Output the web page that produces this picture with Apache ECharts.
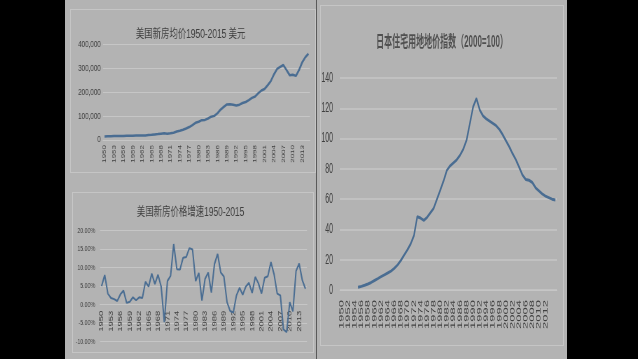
<!DOCTYPE html>
<html><head><meta charset="utf-8">
<script src="https://cdn.jsdelivr.net/npm/echarts/dist/echarts.min.js"></script>
<style>
html,body{margin:0;padding:0;background:#000;width:638px;height:359px;overflow:hidden;position:relative;}
#slide{position:absolute;left:65px;top:0;width:502px;height:359px;background:#b3b3b3;}
.box{position:absolute;border:1px solid #c5c5c5;box-sizing:border-box;}
.chart{position:absolute;transform-origin:0 0;}
</style></head><body>
<div id="slide"></div>
<div class="box" style="left:70px;top:9px;width:246px;height:164px"></div>
<div class="box" style="left:72px;top:192px;width:242px;height:161px"></div>
<div class="box" style="left:320px;top:5px;width:244px;height:341px"></div>
<div style="position:absolute;left:316px;top:0;width:1px;height:359px;background:#5a5a5a"></div>
<div id="c1" class="chart"></div>
<div id="c2" class="chart"></div>
<div id="c3" class="chart"></div>
<script>
// ---------- data ----------
const years = [1950,1951,1952,1953,1954,1955,1956,1957,1958,1959,1960,1961,1962,1963,1964,1965,1966,1967,1968,1969,
1970,1971,1972,1973,1974,1975,1976,1977,1978,1979,1980,1981,1982,1983,1984,1985,1986,1987,1988,1989,
1990,1991,1992,1993,1994,1995,1996,1997,1998,1999,2000,2001,2002,2003,2004,2005,2006,2007,2008,2009,
2010,2011,2012,2013,2014,2015];
const usPrice = [14350,15500,15960,16250,16500,16660,17130,17780,17870,18010,18370,18590,18960,19300,20500,21500,23300,24600,26600,27900,
26600,28300,30500,35500,38900,42600,48000,54200,62500,71800,76400,83000,83900,89800,97600,100800,111900,127200,138300,148800,
149800,147200,144100,147700,154500,158700,166400,176200,181900,195600,207000,213200,228700,246300,274500,297000,305900,313600,292600,270900,
272900,267900,292200,324500,345800,360600];
const usGrowth = [5.0,8.0,3.0,1.8,1.5,1.0,2.8,3.8,0.5,0.8,2.0,1.2,2.0,1.8,6.2,4.9,8.4,5.6,8.1,4.9,
-4.7,6.4,7.8,16.4,9.6,9.5,12.7,12.9,15.3,14.9,6.4,8.6,1.1,7.0,8.7,3.3,11.0,13.7,8.7,7.6,
0.7,-1.7,-2.1,2.5,4.6,2.7,4.9,5.9,3.2,7.5,5.8,3.0,7.3,7.7,11.5,8.2,3.0,2.5,-6.7,-7.4,
0.7,-1.8,9.1,11.1,6.6,4.3];
const jpIndex = [null,null,null,null,null,1.8,2.4,3.1,4.0,5.0,6.3,7.5,8.8,10.0,11.2,12.5,14.3,16.5,19.5,23.0,
26.5,30.5,36.0,48.4,47.5,46.0,48.0,51.0,54.0,60.0,66.0,72.0,79.0,82.0,84.0,86.0,89.0,93.0,99.0,110.0,
121.0,126.5,119.0,115.0,113.0,111.5,110.0,108.5,106.0,102.5,98.5,94.5,90.0,86.0,81.0,76.0,73.0,72.5,71.0,67.5,
65.5,63.5,62.0,61.0,60.0,59.5];
const title1 = '美国新房均价1950-2015 美元';
const title2 = '美国新房价格增速1950-2015';
const title3 = '日本住宅用地地价指数（2000=100）';
const growthMin = -10, growthMax = 20;

// ---------- helpers ----------
const TXT = '#404040', GRID = '#c6c6c6', LINE = '#4a6d92';
const FONT = '"Liberation Sans","Noto Sans CJK SC",sans-serif';
function mk(id, left, top, w, h, f){
  const el = document.getElementById(id);
  el.style.left = left+'px'; el.style.top = top+'px';
  el.style.width = (w/f)+'px'; el.style.height = h+'px';
  el.style.transform = 'scaleX('+f+')';
  const ch = echarts.init(el, null, {renderer:'canvas'});
  return {ch, gx:(px)=> (px-left)/f, gw:(pw)=> pw/f, top};
}
function gridOf(m, x0, x1, y0, y1){
  return {left:m.gx(x0), width:m.gw(x1-x0), top:y0-m.top, height:y1-y0,
          containLabel:false, outerBoundsMode:'none'};
}

// ---------- chart 1 ----------
const m1 = mk('c1', 66, 0, 249, 178, 0.7);
m1.ch.setOption({
  animation:false,
  title:{text:title1, left:'center', top:24, textStyle:{fontFamily:FONT, fontSize:12, fontWeight:'normal', color:TXT}},
  grid:gridOf(m1, 103, 310, 44.3, 140),
  xAxis:{type:'category', data:years, boundaryGap:true,
    axisLine:{lineStyle:{color:GRID}}, axisTick:{show:false},
    axisLabel:{interval:2, rotate:90, fontSize:8, color:TXT, fontFamily:FONT, margin:5, hideOverlap:false}},
  yAxis:{type:'value', min:0, max:400000, interval:100000,
    axisLine:{show:false}, axisTick:{show:false},
    splitLine:{lineStyle:{color:GRID}},
    axisLabel:{fontSize:9, color:TXT, fontFamily:FONT, margin:3,
      formatter:(v)=> v.toLocaleString('en-US')}},
  series:[{type:'line', data:usPrice, symbol:'none', smooth:false,
    lineStyle:{color:LINE, width:2.5}}]
});

// ---------- chart 2 ----------
const m2 = mk('c2', 66, 180, 249, 179, 0.7);
const g2 = gridOf(m2, 100, 307, 230.7, 341.7);
// move the category axis up to the zero line of the value axis
const zeroShift = -g2.height * (0 - growthMin) / (growthMax - growthMin);
m2.ch.setOption({
  animation:false,
  title:{text:title2, left:'center', top:22, textStyle:{fontFamily:FONT, fontSize:12, fontWeight:'normal', color:TXT}},
  grid:g2,
  xAxis:{type:'category', data:years, boundaryGap:true, offset:zeroShift,
    axisLine:{onZero:false, lineStyle:{color:GRID}}, axisTick:{show:false},
    axisLabel:{interval:2, rotate:90, fontSize:9.5, color:TXT, fontFamily:FONT, margin:6, hideOverlap:false}},
  yAxis:{type:'value', min:growthMin, max:growthMax, interval:5,
    axisLine:{show:false}, axisTick:{show:false},
    splitLine:{lineStyle:{color:GRID}},
    axisLabel:{fontSize:7.5, color:TXT, fontFamily:FONT, margin:7,
      formatter:(v)=> v.toFixed(2)+'%'}},
  series:[{type:'line', data:usGrowth, symbol:'none',
    lineStyle:{color:LINE, width:2}}]
});

// ---------- chart 3 ----------
const m3 = mk('c3', 318, 0, 248, 359, 0.5);
m3.ch.setOption({
  animation:false,
  title:{text:title3, left:'center', top:30, textStyle:{fontFamily:FONT, fontSize:16, fontWeight:'bold', color:'#505050'}},
  grid:gridOf(m3, 340, 557, 78, 290),
  xAxis:{type:'category', data:years, boundaryGap:true,
    axisLine:{lineStyle:{color:GRID}}, axisTick:{show:false},
    axisLabel:{interval:1, rotate:90, fontSize:13, color:TXT, fontFamily:FONT, margin:10,
      showMinLabel:true, showMaxLabel:false, hideOverlap:false}},
  yAxis:{type:'value', min:0, max:140, interval:20,
    axisLine:{show:false}, axisTick:{show:false},
    splitLine:{lineStyle:{color:GRID, width:1.5}},
    axisLabel:{fontSize:14, color:TXT, fontFamily:FONT, margin:14}},
  series:[{type:'line', data:jpIndex, symbol:'none', connectNulls:false,
    lineStyle:{color:LINE, width:3}}]
});
</script>
</body></html>
